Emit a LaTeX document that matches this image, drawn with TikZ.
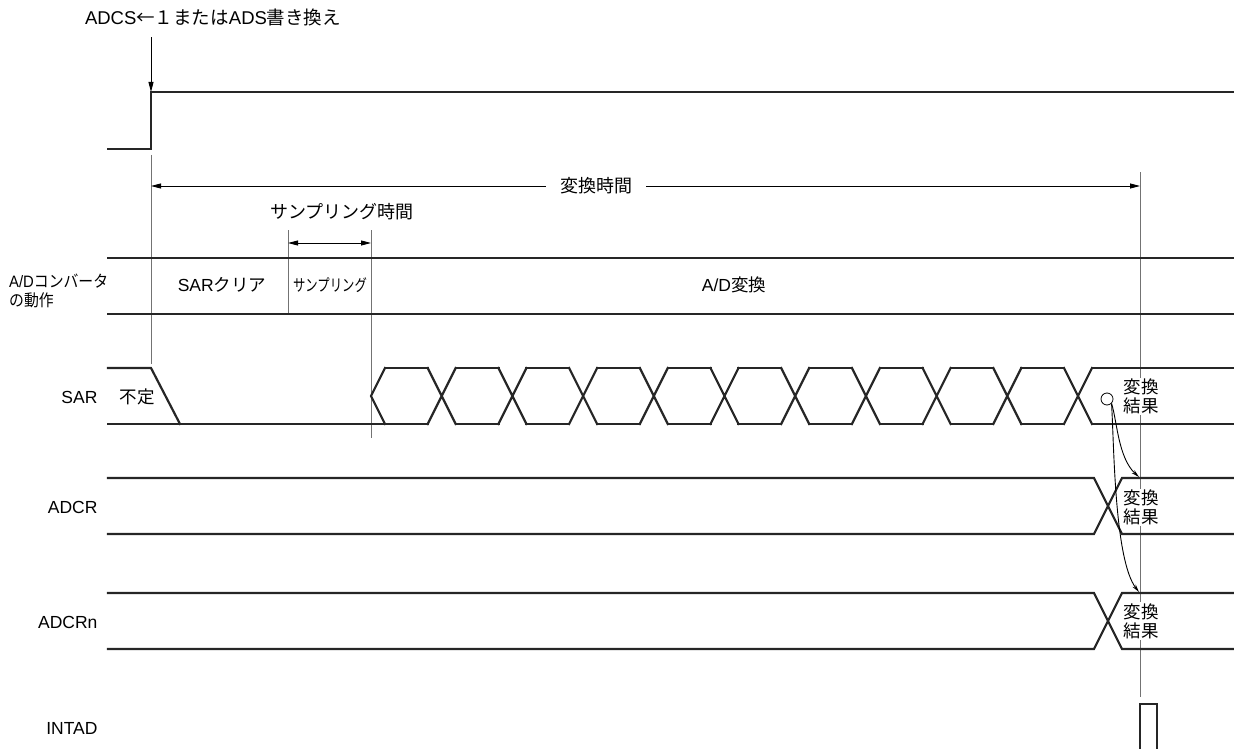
\documentclass[tikz,border=0pt]{standalone}
\usepackage{fontspec}
\setmainfont{Liberation Sans}
\newfontfamily\jp{Noto Sans CJK JP}
\usetikzlibrary{arrows.meta,calc}
\tikzset{
  sig/.style={line width=2.2pt, black!85, line cap=rect},
  guide/.style={line width=1pt, black!55},
  pin/.style={line width=0.9pt, -{Stealth[length=10pt,width=5pt,inset=0pt]}},
  dim/.style={line width=0.9pt, {Stealth[length=10pt,width=5pt,inset=0pt]}-{Stealth[length=10pt,width=5pt,inset=0pt]}},
  xfer/.style={line width=0.9pt, -{Stealth[length=8pt,width=4pt]}},
  res/.style={fill=white, inner sep=1pt, align=left, font=\jp\fontsize{17.5}{19}\selectfont},
}

\begin{document}
\begin{tikzpicture}[x=1pt,y=-1pt,font=\fontsize{17.5}{20}\selectfont]
  \useasboundingbox (0,0) rectangle (1234,749);
  % key instants
  \coordinate (start) at (151,92);
  \coordinate (tend) at (1140,172);
  % ADCS trigger (top)
  \node[font=\fontsize{18.5}{20}\selectfont] (trig) at (213,17) {ADCS{\jp ←１または}ADS{\jp 書き換え}};
  \draw[pin] ([yshift=-8pt]trig.south -| start) -- (start);
  \draw[sig] (108,149) -- (151,149) -- (start) -- (1234,92);
  % timing guides
  \draw[guide] (151,155) -- (151,364);
  \draw[guide] (tend) -- (1140,697);
  \draw[guide] (288,230) -- (288,314);
  \draw[guide] (371,230) -- (371,438);
  % conversion time
  \draw[dim] (151,186) -- (1140,186)
    node[pos=0.45, fill=white, inner xsep=14pt, font=\jp\fontsize{18}{20}\selectfont] (tconv) {変換時間};
  % sampling time
  \node[font=\jp\fontsize{18}{20}\selectfont] (tsmp) at (342,212) {サンプリング時間};
  \draw[dim] (288,243) -- (371,243);
  % A/D converter operation
  \draw[sig] (108,258) -- (1234,258);
  \draw[sig] (108,314) -- (1234,314);
  \node[anchor=west, align=left, inner sep=0pt, xscale=0.9, transform shape,
    font=\fontsize{16.5}{19}\selectfont] (lop) at (9,291) {A/D{\jp コンバータ}\\{\jp の動作}};
  \node (clr) at (222,285) {SAR{\jp クリア}};
  \node[xscale=0.75, transform shape, font=\jp\fontsize{16.5}{20}\selectfont] (smp) at (330,285) {サンプリング};
  \node (adc) at (734,285) {A/D{\jp 変換}};
  % SAR
  \node[anchor=east] (lsar) at (101,397) {SAR};
  \node[font=\jp\fontsize{17.5}{20}\selectfont] (undef) at (137,397) {不定};
  \draw[sig] (108,368) -- (151,368) -- (180,424);
  \draw[sig] (108,424) -- (385,424);
  \draw[sig] (385,368) -- (371,396) -- (385,424);
  \foreach \k in {0,...,9}{
    \pgfmathsetmacro\c{441.7+70.7*\k}
    \draw[sig] (\c-14,368) -- (\c+14,424) (\c-14,424) -- (\c+14,368);
  }
  \foreach \k in {0,...,9}{
    \pgfmathsetmacro\c{441.7+70.7*\k}
    \pgfmathsetmacro\l{\c-56.7}
    \draw[sig] (\l,368) -- (\c-14,368) (\l,424) -- (\c-14,424);
  }
  \draw[sig] (1091.7,368) -- (1234,368) (1091.7,424) -- (1234,424);
  \node[res] (rsar) at (1141,396.5) {変換\\結果};
  \node[draw, circle, line width=0.8pt, minimum size=12pt, inner sep=0pt] (src) at (1107,399) {};
  % ADCR
  \node[anchor=east] (ladcr) at (101,507) {ADCR};
  \draw[sig] (108,478) -- (1094,478) -- (1122,534) -- (1234,534);
  \draw[sig] (108,534) -- (1094,534) -- (1122,478) -- (1234,478);
  \node[res] (radcr) at (1141,507.5) {変換\\結果};
  % ADCRn
  \node[anchor=east] (ladcrn) at (101,622) {ADCRn};
  \draw[sig] (108,593) -- (1094,593) -- (1122,649) -- (1234,649);
  \draw[sig] (108,649) -- (1094,649) -- (1122,593) -- (1234,593);
  \node[res] (radcrn) at (1141,621) {変換\\結果};
  % transfer of result
  \coordinate (inadcr) at (1139,477);
  \coordinate (inadcrn) at (1139,592);
  \draw[xfer] (src.south east) .. controls (1117,420) and (1118,458) .. (inadcr);
  \draw[xfer] (src.south east) .. controls (1114,440) and (1114,560) .. (inadcrn);
  % INTAD
  \node[anchor=east] (lint) at (101,728) {INTAD};
  \draw[sig, line cap=butt] (1140,749) -- (1140,704) -- (1157,704) -- (1157,749);
\end{tikzpicture}
\end{document}
